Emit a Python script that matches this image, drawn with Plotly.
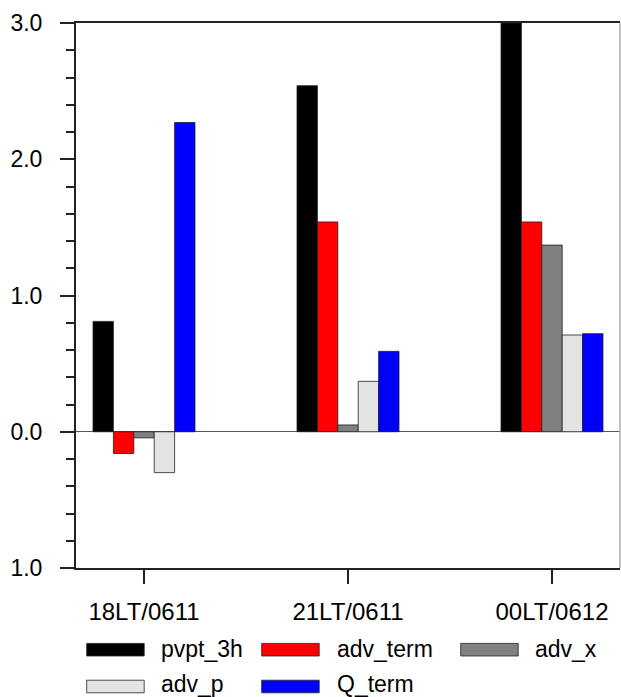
import plotly.graph_objects as go

categories = ["18LT/0611", "21LT/0611", "00LT/0612"]
series_names = ["pvpt_3h", "adv_term", "adv_x", "adv_p", "Q_term"]
pvpt_3h = [0.81, 2.54, 3.0]
adv_term = [-0.16, 1.54, 1.54]
adv_x = [-0.045, 0.05, 1.37]
adv_p = [-0.30, 0.37, 0.71]
Q_term = [2.27, 0.59, 0.72]
series_colors = ["#000000", "#ff0000", "#808080", "#e3e3e3", "#0000ff"]
y_tickvals = [-1, 0, 1, 2, 3]
y_ticktext = ["1.0", "0.0", "1.0", "2.0", "3.0"]

series_values = [pvpt_3h, adv_term, adv_x, adv_p, Q_term]
xpos = [1, 2, 3]

FONT = "Liberation Sans, Arial, Helvetica, sans-serif"
W, H = 621, 697
L, R, T, B = 76, 1, 23, 129
pw, ph = W - L - R, H - T - B

fig = go.Figure()
for name, vals, col in zip(series_names, series_values, series_colors):
    fig.add_trace(go.Bar(
        x=xpos, y=vals, name=name, width=0.1,
        marker=dict(color=col, line=dict(color="#222222", width=0.8)),
        showlegend=False,
    ))

def px_x(p):
    return (p - L) / pw

def px_y(p):
    return (H - B - p) / ph

# custom legend (NCL-like wide boxes): (series index, box left, text left, box centre y, text centre y)
legend_layout = [
    (0, 86.7, 160, 649.7, 649),
    (1, 261.7, 336, 649.7, 649),
    (2, 460.7, 534, 649.7, 649),
    (3, 86.7, 160, 686.5, 684),
    (4, 261.7, 336, 686.5, 684),
]
shapes = []
annotations = []
for idx, bx, tx, by, ty in legend_layout:
    shapes.append(dict(
        type="rect", xref="paper", yref="paper",
        x0=px_x(bx), x1=px_x(bx + 57.5), y0=px_y(by - 6.3), y1=px_y(by + 6.3),
        fillcolor=series_colors[idx], line=dict(color="#222222", width=0.8),
    ))
    annotations.append(dict(
        xref="paper", yref="paper", x=px_x(tx), y=px_y(ty),
        xanchor="left", yanchor="middle", text=series_names[idx],
        showarrow=False, borderpad=0,
        font=dict(family=FONT, size=23, color="black"),
    ))

# right frame edge (light, partially clipped in the reference)
shapes.append(dict(type="line", xref="paper", yref="paper", x0=1, x1=1, y0=0, y1=1,
                   line=dict(color="#b0b0b0", width=1.5)))

fig.update_layout(
    width=W, height=H,
    margin=dict(l=L, r=R, t=T, b=B, pad=0),
    paper_bgcolor="white", plot_bgcolor="white",
    barmode="group", bargap=0.5, bargroupgap=0,
    font=dict(family=FONT, size=23, color="black"),
    shapes=shapes, annotations=annotations,
    xaxis=dict(
        range=[2 / 3, 10 / 3], tickvals=xpos, ticktext=categories,
        ticks="outside", ticklen=14, tickwidth=2, tickcolor="#222222",
        showline=True, linecolor="#222222", linewidth=2, mirror=True,
        showgrid=False, zeroline=False, ticklabelstandoff=7,
        tickfont=dict(family=FONT, size=24),
    ),
    yaxis=dict(
        range=[-1, 3], tickvals=y_tickvals, ticktext=y_ticktext,
        ticks="outside", ticklen=14, tickwidth=2, tickcolor="#222222",
        minor=dict(dtick=0.2, tick0=0, ticks="outside", ticklen=8, tickwidth=1.5, tickcolor="#222222"),
        showline=True, linecolor="#222222", linewidth=2,
        showgrid=False, zeroline=True, zerolinecolor="#555555", zerolinewidth=1,
        ticklabelstandoff=13,
        tickfont=dict(family=FONT, size=23),
    ),
)

fig.write_html(
    "out.html",
    config={"displayModeBar": False},
    post_script="document.body.style.margin='0';document.body.style.overflow='hidden';",
)
